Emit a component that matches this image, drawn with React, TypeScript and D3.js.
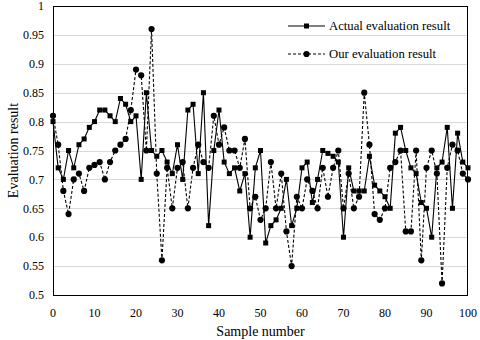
import React from "react";
import * as d3 from "d3";

const actual = [
  0.8, 0.72, 0.7, 0.75, 0.72, 0.76, 0.77, 0.79, 0.8, 0.82,
  0.82, 0.81, 0.8, 0.84, 0.83, 0.8, 0.81, 0.7, 0.85, 0.75,
  0.74, 0.75, 0.73, 0.71, 0.76, 0.7, 0.82, 0.83, 0.71, 0.85,
  0.62, 0.75, 0.82, 0.73, 0.71, 0.72, 0.68, 0.71, 0.6, 0.72,
  0.75, 0.59, 0.62, 0.63, 0.65, 0.7, 0.62, 0.65, 0.72, 0.73,
  0.66, 0.7, 0.75, 0.745, 0.74, 0.73, 0.6, 0.72, 0.68, 0.68,
  0.68, 0.74, 0.69, 0.68, 0.67, 0.65, 0.78, 0.79, 0.75, 0.72,
  0.71, 0.66, 0.65, 0.6, 0.72, 0.73, 0.79, 0.65, 0.78, 0.73,
  0.72,
];

const ours = [
  0.81, 0.76, 0.68, 0.64, 0.7, 0.71, 0.68, 0.72, 0.725, 0.73,
  0.7, 0.73, 0.75, 0.76, 0.77, 0.82, 0.89, 0.88, 0.75, 0.96,
  0.71, 0.56, 0.72, 0.65, 0.72, 0.73, 0.65, 0.72, 0.76, 0.73,
  0.72, 0.81, 0.76, 0.79, 0.75, 0.75, 0.72, 0.77, 0.65, 0.67,
  0.63, 0.65, 0.73, 0.65, 0.71, 0.61, 0.55, 0.67, 0.65, 0.7,
  0.68, 0.65, 0.72, 0.67, 0.72, 0.75, 0.65, 0.71, 0.65, 0.67,
  0.85, 0.76, 0.64, 0.63, 0.65, 0.72, 0.73, 0.75, 0.61, 0.61,
  0.75, 0.56, 0.72, 0.75, 0.71, 0.52, 0.72, 0.76, 0.75, 0.71,
  0.7,
];

const xTicks = [0, 10, 20, 30, 40, 50, 60, 70, 80, 90, 100];
const yTicks = [0.5, 0.55, 0.6, 0.65, 0.7, 0.75, 0.8, 0.85, 0.9, 0.95, 1];
const yTickLabels = ["0.5", "0.55", "0.6", "0.65", "0.7", "0.75", "0.8", "0.85", "0.9", "0.95", "1"];
const seriesNames = ["Actual evaluation result", "Our evaluation result"];
const xTitle = "Sample number";
const yTitle = "Evaluation result";

const FONT = "'Liberation Serif', 'Times New Roman', serif";

export default function App() {
  const W = 480;
  const H = 340;
  const left = 53;
  const right = 468;
  const top = 6;
  const bottom = 295;

  const x = d3.scaleLinear().domain([0, 100]).range([left, right]);
  const y = d3.scaleLinear().domain([0.5, 1]).range([bottom, top]);
  const n = actual.length;
  const sample = actual.map((_, i) => (i * 100) / (n - 1));

  const line = d3
    .line<number>()
    .x((_, i) => x(sample[i]))
    .y((d) => y(d));

  const sq = 5;
  const r = 3.1;

  return (
    <svg
      width={W}
      height={H}
      style={{ position: "absolute", left: 0, top: 0, background: "#fff" }}
      fontFamily={FONT}
    >
      <rect x={0} y={0} width={W} height={H} fill="#fff" />
      {yTicks.slice(1, -1).map((t) => (
        <line
          key={"g" + t}
          x1={left}
          x2={right}
          y1={Math.round(y(t)) + 0.5}
          y2={Math.round(y(t)) + 0.5}
          stroke="#d9d9d9"
          strokeWidth={1}
        />
      ))}
      <rect
        x={left + 0.5}
        y={top + 0.5}
        width={right - left - 1}
        height={bottom - top}
        fill="none"
        stroke="#000"
        strokeWidth={1}
      />
      {yTicks.map((t, i) => (
        <text
          key={"yt" + t}
          x={44}
          y={y(t)}
          dy="0.35em"
          textAnchor="end"
          fontSize={12}
          fill="#000"
        >
          {yTickLabels[i]}
        </text>
      ))}
      {xTicks.map((t) => (
        <text key={"xt" + t} x={x(t)} y={316.5} textAnchor="middle" fontSize={12} fill="#000">
          {t}
        </text>
      ))}
      <text x={(left + right) / 2} y={336} textAnchor="middle" fontSize={14} fill="#000">
        {xTitle}
      </text>
      <text
        transform={`translate(18,${(top + bottom) / 2}) rotate(-90)`}
        textAnchor="middle"
        fontSize={14}
        fill="#000"
      >
        {yTitle}
      </text>

      <path d={line(actual) || ""} fill="none" stroke="#000" strokeWidth={1.1} />
      {actual.map((v, i) => (
        <rect
          key={"a" + i}
          x={x(sample[i]) - sq / 2}
          y={y(v) - sq / 2}
          width={sq}
          height={sq}
          fill="#000"
        />
      ))}
      <path
        d={line(ours) || ""}
        fill="none"
        stroke="#000"
        strokeWidth={1.1}
        strokeDasharray="3,2"
      />
      {ours.map((v, i) => (
        <circle key={"o" + i} cx={x(sample[i])} cy={y(v)} r={r} fill="#000" />
      ))}

      <g>
        <line x1={288} x2={325} y1={26} y2={26} stroke="#000" strokeWidth={1.1} />
        <rect x={306.5 - sq / 2} y={26 - sq / 2} width={sq} height={sq} fill="#000" />
        <text x={329} y={26} dy="0.35em" fontSize={12.7} fill="#000">
          {seriesNames[0]}
        </text>
        <line
          x1={288}
          x2={325}
          y1={54}
          y2={54}
          stroke="#000"
          strokeWidth={1.1}
          strokeDasharray="3,2"
        />
        <circle cx={306.5} cy={54} r={r} fill="#000" />
        <text x={329} y={54} dy="0.35em" fontSize={12.7} fill="#000">
          {seriesNames[1]}
        </text>
      </g>
    </svg>
  );
}
